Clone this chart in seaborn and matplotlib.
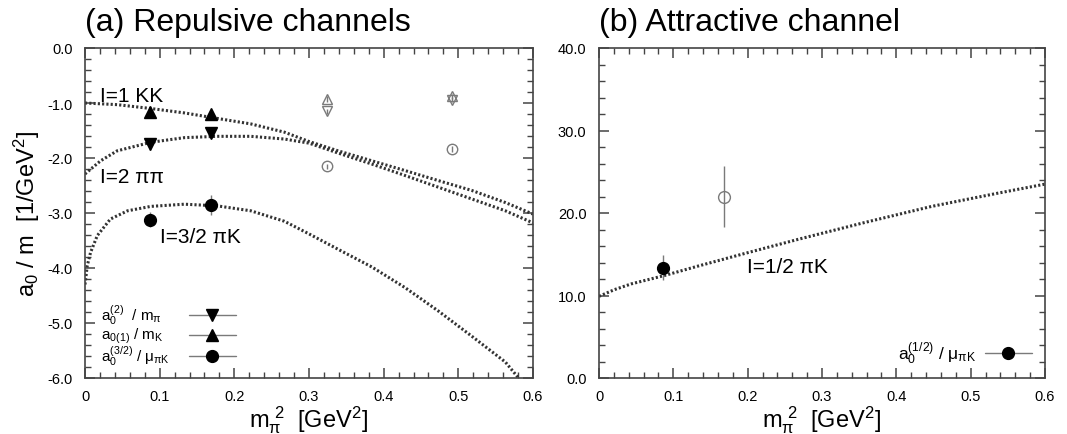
import numpy as np
import pandas as pd
import seaborn as sns
import matplotlib.pyplot as plt
from matplotlib.lines import Line2D
from matplotlib.ticker import MultipleLocator, FormatStrFormatter

# ---- data ----
# chiral curves (a) repulsive channels
kk_x = [0.0, 0.043, 0.088, 0.133, 0.177, 0.222, 0.267, 0.300, 0.339, 0.384, 0.429, 0.473, 0.518, 0.563, 0.600]
kk_y = [-1.00, -1.03, -1.10, -1.18, -1.28, -1.38, -1.53, -1.70, -1.87, -2.05, -2.23, -2.41, -2.59, -2.81, -3.02]

pipi_x = [0.0, 0.021, 0.043, 0.088, 0.133, 0.177, 0.222, 0.267, 0.300, 0.339, 0.384, 0.429, 0.473, 0.518, 0.563, 0.600]
pipi_y = [-2.29, -2.05, -1.87, -1.715, -1.63, -1.606, -1.606, -1.655, -1.73, -1.91, -2.11, -2.32, -2.53, -2.745, -2.96, -3.18]

pik32_x = [0.0, 0.003, 0.0074, 0.0165, 0.034, 0.057, 0.088, 0.133, 0.177, 0.222, 0.267, 0.300, 0.339, 0.384, 0.429, 0.473, 0.518, 0.563, 0.580]
pik32_y = [-4.30, -3.96, -3.72, -3.41, -3.11, -2.96, -2.88, -2.84, -2.87, -2.96, -3.15, -3.38, -3.66, -3.98, -4.36, -4.78, -5.24, -5.71, -5.99]

# lattice points (a)
mpi2 = [0.0866, 0.1683]
pipi_pts = [-1.745, -1.55]
pipi_err = [0.115, 0.09]
kk_pts = [-1.17, -1.20]
kk_err = [0.03, 0.03]
pik32_pts = [-3.12, -2.855]
pik32_err = [0.14, 0.18]

mpi2_open = [0.3245, 0.491]
kk_open = [-0.93, -0.88]
pipi_open = [-1.15, -0.94]
pik32_open = [-2.15, -1.836]
open_err = [0.05, 0.05]

# (b) attractive channel
pik12_x = [0.0, 0.021, 0.0435, 0.088, 0.133, 0.200, 0.268, 0.357, 0.447, 0.537, 0.600]
pik12_y = [9.9, 10.72, 11.41, 12.42, 13.56, 15.19, 16.81, 18.84, 20.79, 22.41, 23.5]

pik12_pt_x = [0.0866]
pik12_pt = [13.36]
pik12_pt_err = [1.5]
pik12_open_x = [0.168]
pik12_open = [21.96]
pik12_open_err = [3.7]

leg_labels_a = [r'a$_0^{(2)}$  / m$_{π}$', r'a$_{0(1)}$ / m$_K$', r'a$_0^{(3/2)}$ / μ$_{πK}$']
leg_markers_a = ['v', '^', 'o']
leg_label_b = r'a$_0^{(1/2)}$ / μ$_{πK}$'

# ---- style ----
sns.set_theme(style="ticks")
plt.rcParams['font.family'] = ['Liberation Sans', 'DejaVu Sans']
plt.rcParams['mathtext.default'] = 'regular'
plt.rcParams['text.color'] = 'black'
plt.rcParams['axes.labelcolor'] = 'black'
plt.rcParams['axes.edgecolor'] = '#444444'
plt.rcParams['axes.linewidth'] = 1.2
plt.rcParams['xtick.color'] = '#444444'
plt.rcParams['ytick.color'] = '#444444'
plt.rcParams['xtick.labelcolor'] = 'black'
plt.rcParams['ytick.labelcolor'] = 'black'

CURVE = '#333333'
GREY = '#7a7a7a'
dots = (0, (0.7, 0.7))

fig = plt.figure(figsize=(10.67, 4.35), dpi=100)
axL = fig.add_axes([85 / 1067, 1 - 379 / 435, 448 / 1067, 330 / 435])
axR = fig.add_axes([599 / 1067, 1 - 379 / 435, 446 / 1067, 330 / 435])


def style_axes(ax, ymin, ymax, ymaj, ymin_step):
    ax.set_xlim(0, 0.6)
    ax.set_ylim(ymin, ymax)
    ax.xaxis.set_major_locator(MultipleLocator(0.1))
    ax.xaxis.set_minor_locator(MultipleLocator(0.02))
    ax.yaxis.set_major_locator(MultipleLocator(ymaj))
    ax.yaxis.set_minor_locator(MultipleLocator(ymin_step))
    ax.yaxis.set_major_formatter(FormatStrFormatter('%.1f'))
    ax.xaxis.set_major_formatter(plt.FuncFormatter(lambda v, p: '0' if abs(v) < 1e-9 else f'{v:.1f}'))
    ax.tick_params(which='both', direction='in', top=True, right=True, labelsize=10.5)
    ax.tick_params(which='major', length=7, width=1.1)
    ax.tick_params(which='minor', length=4, width=1.0)
    ax.tick_params(axis='y', pad=9)
    ax.tick_params(axis='x', pad=8)
    ax.set_xlabel(r'$m_{π}^{\ 2}$  [GeV$^{2}$]', fontsize=17, labelpad=0)
    for s in ax.spines.values():
        s.set_visible(True)


def legend_row(ax, y, x0, x1, marker, ms):
    # legend key: grey line with a black marker in the middle
    ax.add_line(Line2D([x0, x1], [y, y], color=GREY, lw=1, transform=ax.transAxes))
    ax.add_line(Line2D([(x0 + x1) / 2], [y], marker=marker, color='black', ms=ms, ls='none',
                       transform=ax.transAxes))


# ---- (a) ----
ax = axL
style_axes(ax, -6.0, 0.0, 1.0, 0.2)
for cx, cy in [(kk_x, kk_y), (pipi_x, pipi_y), (pik32_x, pik32_y)]:
    sns.lineplot(x=cx, y=cy, ax=ax, color=CURVE, lw=2.2, linestyle=dots, sort=False, estimator=None)

ax.errorbar(mpi2, pipi_pts, yerr=pipi_err, fmt='v', color='black', ms=8, ecolor=GREY, elinewidth=1, capsize=0)
ax.errorbar(mpi2, kk_pts, yerr=kk_err, fmt='^', color='black', ms=8, ecolor=GREY, elinewidth=1, capsize=0)
ax.errorbar(mpi2, pik32_pts, yerr=pik32_err, fmt='o', color='black', ms=8.5, ecolor=GREY, elinewidth=1, capsize=0)

for vals, mk, ms in [(kk_open, '^', 7), (pipi_open, 'v', 7), (pik32_open, 'o', 7.5)]:
    ax.errorbar(mpi2_open, vals, yerr=open_err, fmt=mk, mfc='none', mec=GREY, ms=ms, mew=1,
                ecolor=GREY, elinewidth=1, capsize=0)

ax.text(0.020, -0.96, 'I=1 KK', fontsize=15)
ax.text(0.020, -2.44, 'I=2 ππ', fontsize=15)
ax.text(0.100, -3.53, 'I=3/2 πK', fontsize=15)

ax.set_ylabel(r'a$_0$ / m  [1/GeV$^{2}$]', fontsize=17, labelpad=4)

rows_y = [0.192, 0.130, 0.068]
for lab, mk, yy in zip(leg_labels_a, leg_markers_a, rows_y):
    ax.text(0.035, yy, lab, transform=ax.transAxes, fontsize=11, va='center', ha='left')
    legend_row(ax, yy, 0.232, 0.337, mk, 8.5 if mk == 'o' else 8)
ax.set_title('(a) Repulsive channels', loc='left', fontsize=23, pad=13)

# ---- (b) ----
ax = axR
style_axes(ax, 0.0, 40.0, 10.0, 2.0)
sns.lineplot(x=pik12_x, y=pik12_y, ax=ax, color=CURVE, lw=2.2, linestyle=dots, sort=False, estimator=None)
ax.errorbar(pik12_pt_x, pik12_pt, yerr=pik12_pt_err, fmt='o', color='black', ms=8.5, ecolor=GREY,
            elinewidth=1, capsize=0)
ax.errorbar(pik12_open_x, pik12_open, yerr=pik12_open_err, fmt='o', mfc='none', mec=GREY, ms=8.5, mew=1,
            ecolor=GREY, elinewidth=1, capsize=0)
ax.text(0.199, 12.9, 'I=1/2 πK', fontsize=15)

ax.text(0.847, 0.075, leg_label_b, transform=ax.transAxes, fontsize=12.5, va='center', ha='right')
legend_row(ax, 0.075, 0.8655, 0.970, 'o', 8.5)
ax.set_title('(b) Attractive channel', loc='left', fontsize=23, pad=13)

fig.savefig('out.png', dpi=100)
